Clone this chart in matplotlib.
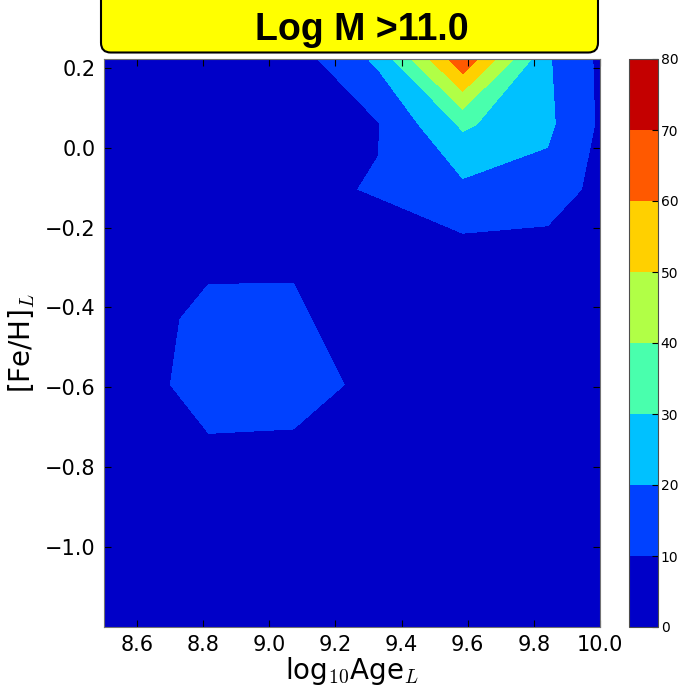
import matplotlib
matplotlib.use('Agg')
import matplotlib.pyplot as plt
from matplotlib.patches import FancyBboxPatch
import numpy as np

plt.rcParams['mathtext.fontset'] = 'cm'

# grid of bin centres (log10 Age, [Fe/H]) and counts
age = [8.305, 8.561, 8.817, 9.073, 9.329, 9.585, 9.841, 10.097]
feh = [0.222, 0.059, -0.104, -0.267, -0.430, -0.593, -0.756, -0.919, -1.082, -1.245]
counts = [
    [1.0, 1.5, 2.5, 5.2, 22.0, 68.0, 21.0, 0.5],
    [1.0, 2.0, 3.5, 6.5, 9.5, 31.6, 22.0, 0.5],
    [1.0, 3.0, 5.0, 8.4, 10.5, 17.7, 16.4, 0.5],
    [1.5, 4.5, 7.9, 8.75, 6.6, 6.3, 5.0, 1.0],
    [2.0, 5.2, 12.5, 11.5, 4.4, 4.0, 3.0, 1.0],
    [2.0, 6.4, 13.0, 13.0, 8.0, 3.5, 2.5, 1.0],
    [1.5, 5.0, 9.0, 8.6, 5.0, 3.0, 2.0, 1.0],
    [1.0, 3.0, 5.0, 5.0, 3.5, 2.0, 1.5, 0.5],
    [0.5, 1.5, 2.5, 2.5, 2.0, 1.5, 1.0, 0.5],
    [0.5, 0.5, 1.0, 1.0, 1.0, 1.0, 0.5, 0.5],
]
levels = [0, 10, 20, 30, 40, 50, 60, 70, 80]
title = 'Log M >11.0'

W, H = 690, 699
fig = plt.figure(figsize=(W / 100, H / 100), dpi=100)
ax = fig.add_axes([104 / W, 1 - 627 / H, 496 / W, 568 / H])
cax = fig.add_axes([629 / W, 1 - 627 / H, 29 / W, 568 / H])

X, Y = np.meshgrid(age, feh)
cs = ax.contourf(X, Y, np.array(counts), levels=levels, cmap='jet')
ax.set_xlim(8.5, 10.0)
ax.set_ylim(-1.2, 0.222)
ax.set_xticks([8.6, 8.8, 9.0, 9.2, 9.4, 9.6, 9.8, 10.0])
ax.set_yticks([0.2, 0.0, -0.2, -0.4, -0.6, -0.8, -1.0])
ax.tick_params(direction='in', top=True, right=True, length=5, labelsize=15, pad=6)
for s in ax.spines.values():
    s.set_color('0.45')
ax.set_xlabel(r'log$_{10}$Age$_L$', fontsize=20, labelpad=0)
ax.set_ylabel(r'[Fe/H]$_L$', fontsize=20, labelpad=6)

cb = fig.colorbar(cs, cax=cax, ticks=levels)
cb.ax.tick_params(direction='in', length=4, labelsize=10, pad=2)
cb.outline.set_edgecolor('0.3')

box = FancyBboxPatch((101 / W, 1 - 52.5 / H), 497 / W, 0.1,
                     boxstyle='round,pad=0,rounding_size=0.014',
                     transform=fig.transFigure, facecolor='yellow',
                     edgecolor='black', linewidth=1.5, clip_on=False)
fig.patches.append(box)
fig.text(362 / W, 1 - 39.5 / H, title, ha='center', va='baseline',
         fontsize=27, fontweight='bold', family='Liberation Sans')

fig.savefig('out.png', dpi=100)
